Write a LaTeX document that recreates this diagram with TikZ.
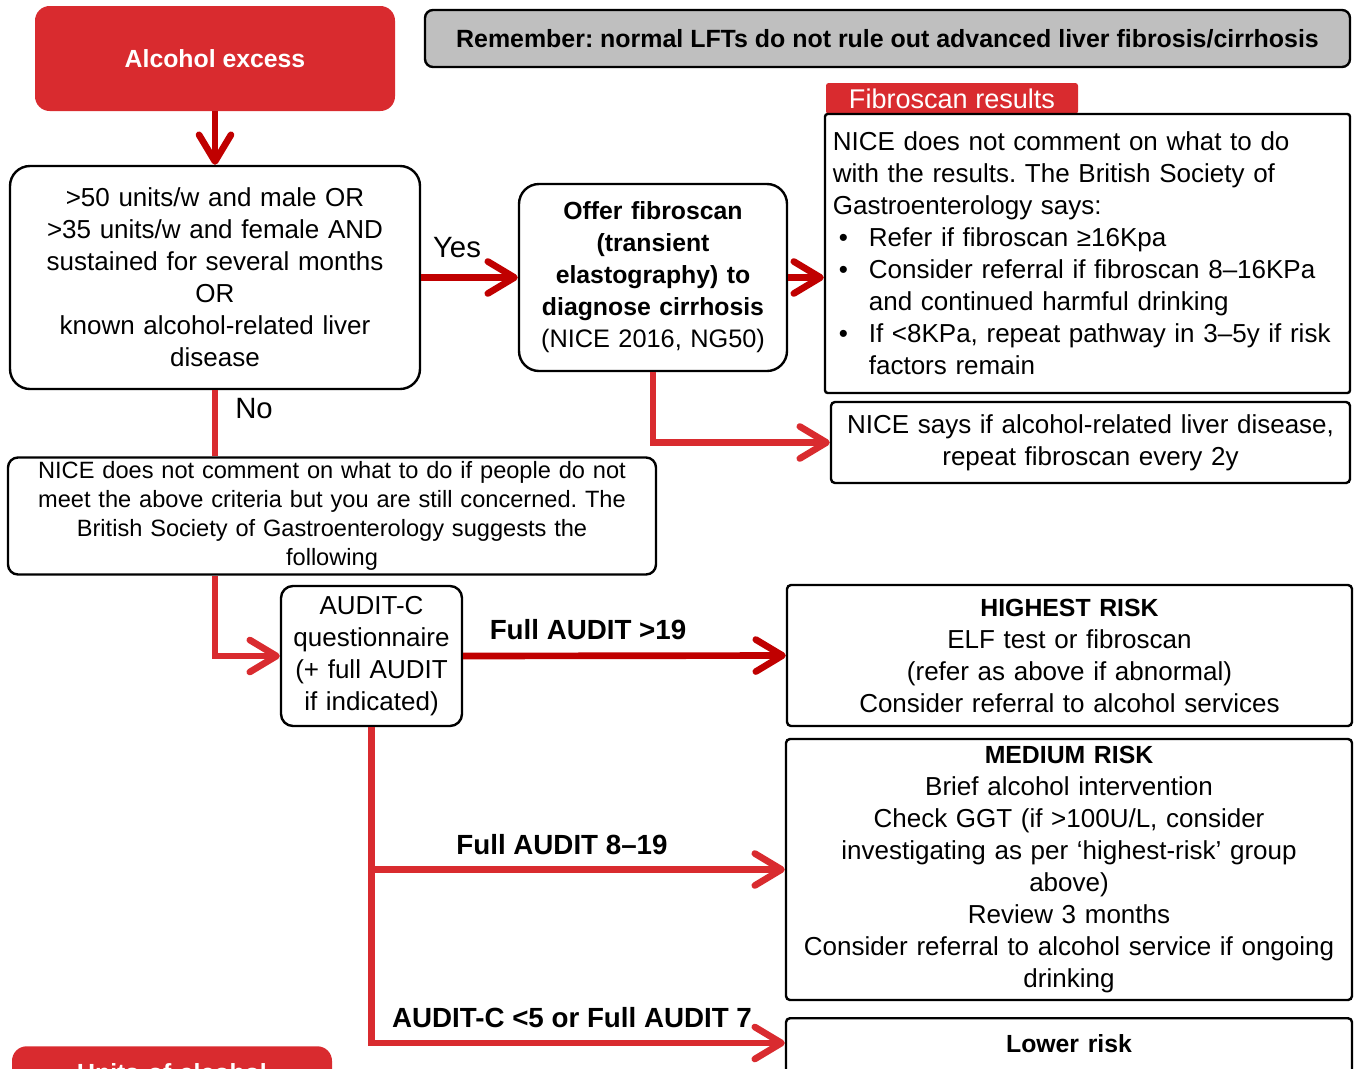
\documentclass[tikz,border=0pt]{standalone}
\usepackage{fontspec}
\setmainfont{Liberation Sans}
\frenchspacing
\usetikzlibrary{arrows.meta,calc}
\definecolor{boxred}{HTML}{D92B2F}
\definecolor{darkred}{HTML}{C00000}
\definecolor{remgray}{HTML}{BFBFBF}
\newcommand{\bulitem}{\makebox[27pt][l]{\hspace{4.5pt}\textbullet}}
\newcommand{\hd}[1]{{\fontsize{18.6}{24}\selectfont\bfseries #1}}

\begin{document}
\begin{tikzpicture}[x=0.75pt,y=0.75pt,yscale=-1,xscale=1,
  box/.style={draw=black,line width=1.8pt,align=center,inner sep=0pt,font=\fontsize{19.5}{24}\selectfont},
  redbox/.style={fill=boxred,draw=none,text=white,align=center,inner sep=0pt,font=\fontsize{19.5}{24}\selectfont},
  lbl/.style={inner sep=0pt,font=\fontsize{22}{24}\selectfont},
  boldlbl/.style={inner sep=0pt,font=\fontsize{20.8}{24}\selectfont\bfseries},
  darkflow/.style={draw=darkred,line width=5pt,-{Straight Barb[length=20pt,width=24pt,round]}},
  redflow/.style={draw=boxred,line width=5pt,-{Straight Barb[length=20pt,width=24pt,round]}},
  redline/.style={draw=boxred,line width=5pt}]
\useasboundingbox (0,0) rectangle (1360,1068);

%Shape: Alcohol excess
\node[redbox,rounded corners=11pt,minimum width=270pt,minimum height=78.75pt] (alc) at (215,58.5) {\hd{Alcohol excess}};
%Shape: Remember banner
\node[box,fill=remgray,rounded corners=6pt,minimum width=693.75pt,minimum height=42.75pt,font=\fontsize{18.7}{24}\selectfont\bfseries] (remember) at (887.5,38.5) {Remember: normal LFTs do not rule out advanced liver fibrosis/cirrhosis};

%Shape: criteria
\node[box,rounded corners=15pt,minimum width=307.5pt,minimum height=167.25pt,text width=300pt] (crit) at (215,277.5) {>50 units/w and male OR\\>35 units/w and female AND\\sustained for several months\\OR\\known alcohol-related liver\\disease};
%Shape: fibroscan
\node[box,rounded corners=15pt,minimum width=201pt,minimum height=140.25pt,text width=198pt,font=\fontsize{19}{24}\selectfont] (fibro) at (653,277.5) {\hd{Offer fibroscan}\\\hd{(transient}\\\hd{elastography) to}\\\hd{diagnose cirrhosis}\\(NICE 2016, NG50)};

%Shape: results tab + box
\node[redbox,rounded corners=2pt,minimum width=189pt,minimum height=23.25pt,font=\fontsize{20.3}{24}\selectfont] (restab) at (952,98.5) {Fibroscan results};
\node[box,align=left,rounded corners=2pt,minimum width=393.75pt,minimum height=209.25pt,text width=382pt] (results) at (1087.5,253.5) {NICE does not comment on what to do\\with the results. The British Society of\\Gastroenterology says:\\\bulitem Refer if fibroscan ≥16Kpa\\\bulitem Consider referral if fibroscan 8–16KPa\\\hspace*{27pt}and continued harmful drinking\\\bulitem If <8KPa, repeat pathway in 3–5y if risk\\\hspace*{27pt}factors remain};
\node[box,rounded corners=3pt,minimum width=389.25pt,minimum height=60.75pt,text width=386pt] (nicesays) at (1090.5,442.5) {NICE says if alcohol-related liver disease,\\repeat fibroscan every 2y};

%Shape: no branch
\node[box,rounded corners=7.5pt,minimum width=486pt,minimum height=87.75pt,text width=482pt,font=\fontsize{17.7}{21.75}\selectfont] (notcomment) at (332,516) {NICE does not comment on what to do if people do not\\meet the above criteria but you are still concerned. The\\British Society of Gastroenterology suggests the\\following};
\node[box,rounded corners=9pt,minimum width=135.75pt,minimum height=105pt,text width=134pt] (auditc) at (371.5,656) {AUDIT-C\\questionnaire\\(+ full AUDIT\\if indicated)};

%Shape: risk groups
\node[box,rounded corners=3pt,minimum width=423.75pt,minimum height=105.75pt,text width=420pt] (highest) at (1069.5,655.5) {\hd{HIGHEST RISK}\\ELF test or fibroscan\\(refer as above if abnormal)\\Consider referral to alcohol services};
\node[box,rounded corners=3pt,minimum width=424.5pt,minimum height=195.75pt,text width=421pt] (medium) at (1069,869.5) {\hd{MEDIUM RISK}\\Brief alcohol intervention\\Check GGT (if >100U/L, consider\\investigating as per ‘highest-risk’ group\\above)\\Review 3 months\\Consider referral to alcohol service if ongoing\\drinking};
\node[box,anchor=north,rounded corners=3pt,minimum width=424.5pt,text width=421pt,text height=26pt,text depth=60pt] (lower) at (1069,1017) {\hd{Lower risk}};
\node[redbox,anchor=north,rounded corners=11pt,minimum width=240pt,text width=236pt,text height=26.25pt,text depth=40pt] (units) at (172,1046) {\hd{Units of alcohol}};

% Text Node
\node[lbl] (yes) at (457,248) {Yes};
\node[lbl] (no) at (254,409) {No};
\node[boldlbl] (full19) at (588,630) {Full AUDIT >19};
\node[boldlbl] (full819) at (562,845) {Full AUDIT 8–19};
\node[boldlbl] (auditlow) at (572,1018) {AUDIT-C <5 or Full AUDIT 7};

%Straight Lines
\draw[darkflow] (alc.south) -- (crit.north);
\draw[darkflow] (crit.east) -- (fibro.west);
\draw[darkflow] (fibro.east) -- (fibro.east -| results.west);
\draw[redflow] (fibro.south) |- (nicesays.west);
\draw[redline] (crit.south) -- (crit.south |- notcomment.north);
\draw[redflow] (notcomment.south -| crit.south) |- (auditc.west);
\draw[darkflow] (auditc.east) -- (highest.west);
\draw[redflow] (auditc.south) |- ($(lower.north west)+(0,26)$);
\draw[redflow] (auditc.south |- medium.west) -- (medium.west);

\end{tikzpicture}
\end{document}
